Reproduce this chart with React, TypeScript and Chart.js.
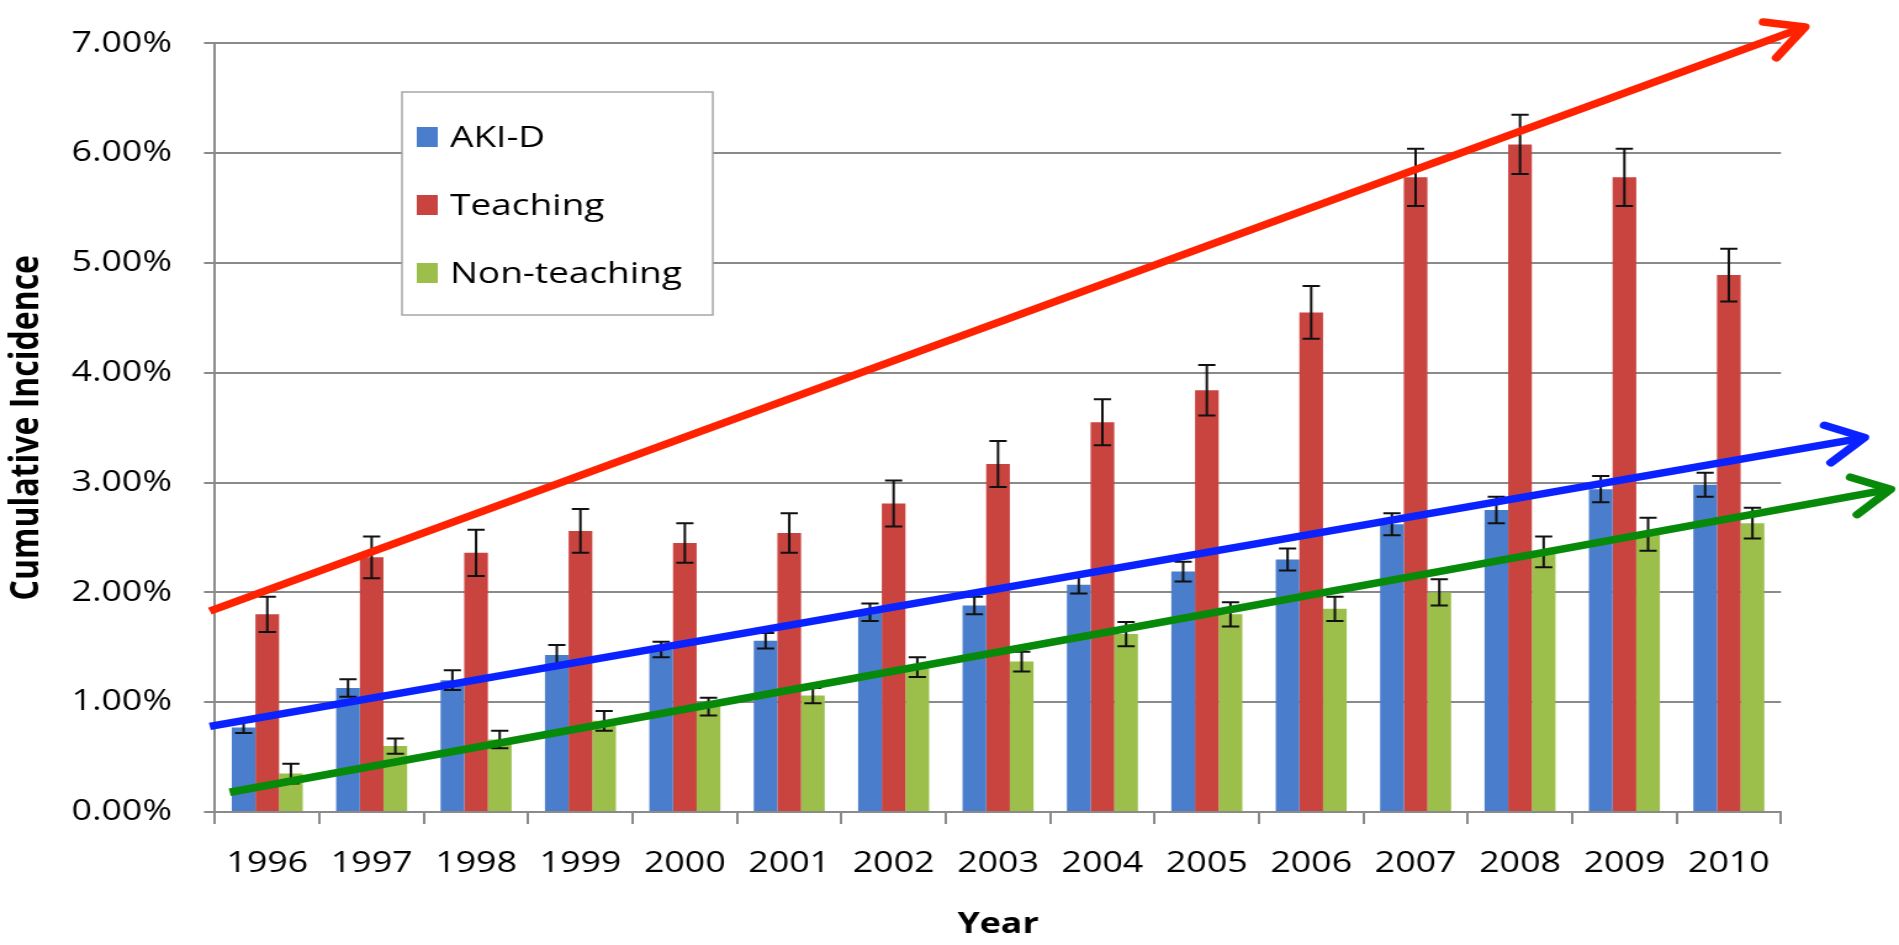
import { useEffect, useRef } from "react";
import { Chart, registerables } from "chart.js";

Chart.register(...registerables);

// ---- data -------------------------------------------------------------
const years = ["1996", "1997", "1998", "1999", "2000", "2001", "2002", "2003", "2004", "2005", "2006", "2007", "2008", "2009", "2010"];

const akiD = [0.77, 1.13, 1.2, 1.43, 1.48, 1.56, 1.82, 1.88, 2.07, 2.19, 2.3, 2.62, 2.75, 2.94, 2.98];
const akiDErr = [0.05, 0.08, 0.09, 0.09, 0.07, 0.07, 0.08, 0.08, 0.08, 0.09, 0.1, 0.1, 0.12, 0.12, 0.11];

const teaching = [1.8, 2.32, 2.36, 2.56, 2.45, 2.54, 2.81, 3.17, 3.55, 3.84, 4.55, 5.78, 6.08, 5.78, 4.89];
const teachingErr = [0.16, 0.19, 0.21, 0.2, 0.18, 0.18, 0.21, 0.21, 0.21, 0.23, 0.24, 0.26, 0.27, 0.26, 0.24];

const nonTeaching = [0.35, 0.6, 0.66, 0.83, 0.96, 1.06, 1.32, 1.37, 1.62, 1.8, 1.85, 2.0, 2.37, 2.53, 2.63];
const nonTeachingErr = [0.09, 0.07, 0.08, 0.09, 0.08, 0.07, 0.09, 0.09, 0.11, 0.11, 0.11, 0.12, 0.14, 0.15, 0.14];

const yTickLabels = ["0.00%", "1.00%", "2.00%", "3.00%", "4.00%", "5.00%", "6.00%", "7.00%"];

// trend arrows: [category index, percent] for start and tip
const teachingTrend = [[-0.55, 1.83], [14.73, 7.15]];
const akiDTrend = [[-0.55, 0.78], [15.3, 3.41]];
const nonTeachingTrend = [[-0.36, 0.18], [15.55, 2.94]];

// ---- look ---------------------------------------------------------------
const FONT = '"Open Sans", "Noto Sans", sans-serif';
const CANVAS_W = 1540;
const CANVAS_H = 945;
const DISPLAY_W = 1899;
const STRETCH = DISPLAY_W / CANVAS_W; // the drawing is widened horizontally on screen
const GRID = "#8a8a8a";
const TEXT = "#000000";

const BLUE = "#4a7dcb";
const RED = "#c9443f";
const GREEN = "#9bbf4a";

const errorBarsPlugin = {
  id: "errorBars",
  afterDatasetsDraw(chart: any) {
    const { ctx } = chart;
    const yScale = chart.scales.y;
    ctx.save();
    ctx.strokeStyle = "#111";
    ctx.lineWidth = 2;
    chart.data.datasets.forEach((ds: any, i: number) => {
      const meta = chart.getDatasetMeta(i);
      meta.data.forEach((bar: any, j: number) => {
        const v = ds.data[j];
        const e = ds.errors[j];
        const yTop = yScale.getPixelForValue(v + e);
        const yBot = yScale.getPixelForValue(v - e);
        const half = 7;
        ctx.beginPath();
        ctx.moveTo(bar.x, yTop);
        ctx.lineTo(bar.x, yBot);
        ctx.moveTo(bar.x - half, yTop);
        ctx.lineTo(bar.x + half, yTop);
        ctx.moveTo(bar.x - half, yBot);
        ctx.lineTo(bar.x + half, yBot);
        ctx.stroke();
      });
    });
    ctx.restore();
  },
};

const trendArrows = [
  { points: teachingTrend, color: "#ff2200" },
  { points: akiDTrend, color: "#0a22ff" },
  { points: nonTeachingTrend, color: "#078a0a" },
];

const trendArrowsPlugin = {
  id: "trendArrows",
  afterDatasetsDraw(chart: any) {
    const { ctx } = chart;
    const xs = chart.scales.x;
    const ys = chart.scales.y;
    ctx.save();
    trendArrows.forEach(({ points, color }) => {
      const x0 = xs.getPixelForValue(points[0][0]);
      const y0 = ys.getPixelForValue(points[0][1]);
      const x1 = xs.getPixelForValue(points[1][0]);
      const y1 = ys.getPixelForValue(points[1][1]);
      ctx.strokeStyle = color;
      ctx.lineWidth = 7.5;
      ctx.lineCap = "butt";
      ctx.beginPath();
      ctx.moveTo(x0, y0);
      ctx.lineTo(x1, y1);
      ctx.stroke();
      // chevron head, shaped in on-screen space
      const ang = Math.atan2(y1 - y0, (x1 - x0) * STRETCH);
      const back = ang + Math.PI;
      const len = 42;
      const spread = 0.47;
      const a1 = back + spread;
      const a2 = back - spread;
      ctx.lineCap = "round";
      ctx.lineJoin = "round";
      ctx.beginPath();
      ctx.moveTo(x1 + (Math.cos(a1) * len) / STRETCH, y1 + Math.sin(a1) * len);
      ctx.lineTo(x1, y1);
      ctx.lineTo(x1 + (Math.cos(a2) * len) / STRETCH, y1 + Math.sin(a2) * len);
      ctx.stroke();
    });
    ctx.restore();
  },
};

const boxLegendPlugin = {
  id: "boxLegend",
  afterDraw(chart: any) {
    const { ctx } = chart;
    const left = 326;
    const top = 92;
    const width = 252;
    const height = 223;
    ctx.save();
    ctx.fillStyle = "#ffffff";
    ctx.fillRect(left, top, width, height);
    ctx.strokeStyle = "#a6a6a6";
    ctx.lineWidth = 1.5;
    ctx.strokeRect(left, top, width, height);
    ctx.font = `30px ${FONT}`;
    ctx.textBaseline = "middle";
    ctx.textAlign = "left";
    chart.data.datasets.forEach((ds: any, i: number) => {
      const cy = 137 + i * 68;
      ctx.fillStyle = ds.backgroundColor;
      ctx.fillRect(left + 12, cy - 10, 17, 20);
      ctx.fillStyle = TEXT;
      ctx.fillText(ds.label, left + 39, cy + 1);
    });
    ctx.restore();
  },
};

export default function App() {
  const canvasRef = useRef<HTMLCanvasElement | null>(null);

  useEffect(() => {
    const canvas = canvasRef.current;
    if (!canvas) return;
    const chart = new Chart(canvas, {
      type: "bar",
      data: {
        labels: years,
        datasets: [
          { label: "AKI-D", data: akiD, errors: akiDErr, backgroundColor: BLUE } as any,
          { label: "Teaching", data: teaching, errors: teachingErr, backgroundColor: RED } as any,
          { label: "Non-teaching", data: nonTeaching, errors: nonTeachingErr, backgroundColor: GREEN } as any,
        ],
      },
      options: {
        responsive: false,
        animation: false,
        devicePixelRatio: 1,
        layout: { padding: { top: 32, right: CANVAS_W - 1444.3, bottom: 0, left: 0 } },
        datasets: { bar: { categoryPercentage: 0.68, barPercentage: 1 } },
        plugins: { legend: { display: false }, tooltip: { enabled: false } },
        scales: {
          x: {
            grid: { display: true, drawOnChartArea: false, drawTicks: true, tickLength: 12, color: GRID, lineWidth: 2 },
            border: { display: true, color: GRID, width: 2 },
            ticks: { font: { family: FONT, size: 29 }, color: TEXT, padding: 22, maxRotation: 0, autoSkip: false },
            title: {
              display: true,
              text: "Year",
              font: { family: FONT, size: 29, weight: "bold" },
              color: "#000",
              padding: { top: 0, bottom: 3 },
            },
            afterFit: (s: any) => {
              s.height = 133;
            },
          },
          y: {
            min: 0,
            max: 7,
            ticks: {
              stepSize: 1,
              font: { family: FONT, size: 29 },
              color: TEXT,
              padding: 26,
              callback: (_v: any, i: number) => yTickLabels[i],
            },
            grid: { color: GRID, lineWidth: 2, tickLength: 9 },
            border: { display: true, color: GRID, width: 2 },
            title: {
              display: true,
              text: "Cumulative Incidence",
              font: { family: FONT, size: 32, weight: "bold" },
              color: "#000",
              padding: { top: 3, bottom: 0 },
            },
            afterFit: (s: any) => {
              s.width = 174.4;
            },
          },
        },
      },
      plugins: [errorBarsPlugin, trendArrowsPlugin, boxLegendPlugin],
    } as any);
    return () => chart.destroy();
  }, []);

  return (
    <div style={{ position: "absolute", left: 0, top: 0, width: DISPLAY_W, height: CANVAS_H, background: "#fff" }}>
      <canvas
        ref={canvasRef}
        width={CANVAS_W}
        height={CANVAS_H}
        style={{ display: "block", width: `${DISPLAY_W}px`, height: `${CANVAS_H}px` }}
      />
    </div>
  );
}
